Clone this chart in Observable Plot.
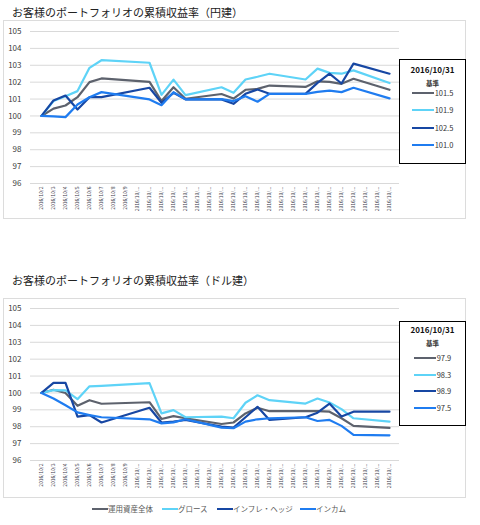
<!DOCTYPE html>
<html>
<head>
<meta charset="utf-8">
<script src="https://cdn.jsdelivr.net/npm/d3@7"></script>
<script src="https://cdn.jsdelivr.net/npm/@observablehq/plot@0.6"></script>
<style>
  html, body { margin: 0; padding: 0; background: #fff; }
  body { font-family: "Noto Sans CJK JP", "Noto Sans", sans-serif; }
  #page { position: relative; width: 480px; height: 525px; overflow: hidden; }
  .abs { position: absolute; }
  .frame { position: absolute; border: 1px solid #dcdcdc; box-sizing: border-box; }
  .title { position: absolute; font-size: 11px; color: #222; white-space: nowrap; line-height: 1; }
  .lbox { position: absolute; border: 1.5px solid #000; background: #fff; box-sizing: border-box; }
  .lbox .hd { position: absolute; left: 0; right: 0; text-align: center; font-weight: bold; color: #111; line-height: 1; }
  .lbox .row { position: absolute; left: 0; right: 0; display: flex; align-items: center; justify-content: center; height: 10px; }
  .lbox .sw { width: 22px; height: 2.6px; }
  .lbox .val { font-size: 7.5px; color: #333; margin-left: 1px; line-height: 1; }
  .legend { position: absolute; display: flex; align-items: center; font-size: 7.5px; color: #595959; line-height: 1; }
  .legend .sw { width: 16px; height: 2.6px; }
</style>
</head>
<body>
<div id="page"></div>
<script>
// ---------- data ----------
const axisDates = ["2016/10/2","2016/10/3","2016/10/4","2016/10/5","2016/10/6","2016/10/7","2016/10/8","2016/10/9","2016/10/10","2016/10/11","2016/10/12","2016/10/13","2016/10/14","2016/10/15","2016/10/16","2016/10/17","2016/10/18","2016/10/19","2016/10/20","2016/10/21","2016/10/22","2016/10/23","2016/10/24","2016/10/25","2016/10/26","2016/10/27","2016/10/28","2016/10/29","2016/10/30","2016/10/31"];
const dataDates = ["2016/10/2","2016/10/3","2016/10/4","2016/10/5","2016/10/6","2016/10/7","2016/10/11","2016/10/12","2016/10/13","2016/10/14","2016/10/17","2016/10/18","2016/10/19","2016/10/20","2016/10/21","2016/10/24","2016/10/25","2016/10/26","2016/10/27","2016/10/28","2016/10/31"];
const seriesNames = ["運用資産全体","グロース","インフレ・ヘッジ","インカム"];
const seriesColors = ["#5d626d","#5ed3f7","#1747a3","#1f7cf0"];
const yTicks = [96,97,98,99,100,101,102,103,104,105];

// 円建
const yenTotal     = [100,100.43,100.62,101.11,102.0,102.22,102.02,100.88,101.7,101.02,101.3,101.03,101.55,101.6,101.8,101.72,102.05,102.02,101.9,102.2,101.55];
const yenGrowth    = [100,100.88,101.17,101.47,102.85,103.3,103.15,101.25,102.15,101.23,101.7,101.37,102.16,102.32,102.5,102.16,102.8,102.55,102.5,102.7,101.95];
const yenInflation = [100,100.92,101.21,100.38,101.11,101.11,101.67,100.78,101.37,100.98,100.98,100.72,101.31,101.57,101.31,101.31,101.96,102.5,101.92,103.1,102.5];
const yenIncome    = [100,99.98,99.93,100.68,101.11,101.41,100.98,100.64,101.41,100.98,101.0,100.88,101.17,100.84,101.31,101.31,101.43,101.5,101.41,101.67,101.04];
const yenLegendValues = ["101.5","101.9","102.5","101.0"];

// ドル建
const usdTotal     = [100,100.19,100.0,99.24,99.57,99.36,99.45,98.46,98.63,98.5,98.16,98.25,98.79,99.12,98.92,98.92,98.92,98.89,98.5,98.05,97.93];
const usdGrowth    = [100,100.17,100.15,99.63,100.39,100.42,100.58,98.79,98.98,98.56,98.6,98.5,99.42,99.86,99.57,99.37,99.67,99.43,99.04,98.5,98.3];
const usdInflation = [100,100.6,100.6,98.6,98.69,98.25,99.12,98.25,98.3,98.4,98.01,97.95,98.56,99.18,98.4,98.56,98.83,99.37,98.6,98.89,98.89];
const usdIncome    = [100,99.67,99.27,98.85,98.69,98.56,98.44,98.2,98.26,98.44,97.95,97.91,98.3,98.44,98.5,98.56,98.34,98.4,98.05,97.52,97.49];
const usdLegendValues = ["97.9","98.3","98.9","97.5"];

const legendDate = "2016/10/31";
const legendBase = "基準";
const titleYen = "お客様のポートフォリオの累積収益率（円建）";
const titleUsd = "お客様のポートフォリオの累積収益率（ドル建）";

// ---------- helpers ----------
const page = document.getElementById("page");
function el(tag, cls, style, text) {
  const e = document.createElement(tag);
  if (cls) e.className = cls;
  if (style) Object.assign(e.style, style);
  if (text != null) e.textContent = text;
  return e;
}
function rowsOf(seriesList) {
  const rows = [];
  seriesList.forEach((vals, i) => {
    vals.forEach((v, j) => rows.push({date: dataDates[j], value: v, series: seriesNames[i]}));
  });
  return rows;
}
function tickFmt(d) {
  const day = +d.split("/")[2];
  return day >= 10 ? "2016/10/..." : d;
}
function makeChart(seriesList) {
  return Plot.plot({
    width: 400,
    height: 220,
    marginLeft: 30,
    marginRight: 1,
    marginTop: 36,
    marginBottom: 32,
    style: {fontFamily: "'Noto Sans CJK JP', 'Noto Sans', sans-serif", background: "transparent", color: "#404040", overflow: "visible"},
    x: {type: "point", domain: axisDates, padding: 0.5, label: null},
    y: {domain: [96, 105], label: null},
    color: {domain: seriesNames, range: seriesColors},
    marks: [
      Plot.gridY(yTicks, {stroke: "#d9d9d9", strokeOpacity: 1, strokeWidth: 1}),
      Plot.axisY(yTicks, {tickSize: 0, tickPadding: 9, fontSize: 8, fill: "#404040", label: null}),
      Plot.axisX({tickSize: 0, tickPadding: 3, tickRotate: -90, fontSize: 5, tickFormat: tickFmt, fill: "#3a3a4a", label: null}),
      Plot.line(rowsOf(seriesList), {x: "date", y: "value", z: "series", stroke: "series", strokeWidth: 2.2, curve: "linear"})
    ]
  });
}
function legendBox(left, top, values, rowTops, hdTop) {
  const box = el("div", "lbox", {left: left + "px", top: top + "px", width: "67px", height: "105px"});
  box.appendChild(el("div", "hd", {top: hdTop + "px", fontSize: "8px"}, legendDate));
  box.appendChild(el("div", "hd", {top: (hdTop + 14) + "px", fontSize: "6.5px", color: "#333"}, legendBase));
  values.forEach((v, i) => {
    const r = el("div", "row", {top: rowTops[i] + "px"});
    r.appendChild(el("div", "sw", {background: seriesColors[i]}));
    r.appendChild(el("div", "val", null, v));
    box.appendChild(r);
  });
  return box;
}

// ---------- top chart ----------
page.appendChild(el("div", "frame", {left: "3px", top: "20px", width: "463px", height: "199px"}));
page.appendChild(el("div", "title", {left: "12px", top: "7px"}, titleYen));
const topHolder = el("div", "abs", {left: "0px", top: "-5px"});
topHolder.appendChild(makeChart([yenTotal, yenGrowth, yenInflation, yenIncome]));
page.appendChild(topHolder);
page.appendChild(legendBox(399, 59, yenLegendValues, [28, 45, 63, 80], 6));

// ---------- bottom chart ----------
page.appendChild(el("div", "frame", {left: "3px", top: "298px", width: "463px", height: "200px"}));
page.appendChild(el("div", "title", {left: "12px", top: "275px"}, titleUsd));
const botHolder = el("div", "abs", {left: "0px", top: "272px"});
botHolder.appendChild(makeChart([usdTotal, usdGrowth, usdInflation, usdIncome]));
page.appendChild(botHolder);
page.appendChild(legendBox(399, 321, usdLegendValues, [31, 48, 64, 81], 4));

// ---------- shared legend ----------
const legendX = [92, 162, 217, 300];
seriesNames.forEach((n, i) => {
  const item = el("div", "legend", {left: legendX[i] + "px", top: "504px", height: "10px"});
  item.appendChild(el("div", "sw", {background: seriesColors[i]}));
  item.appendChild(el("span", null, null, n));
  page.appendChild(item);
});
</script>
</body>
</html>
